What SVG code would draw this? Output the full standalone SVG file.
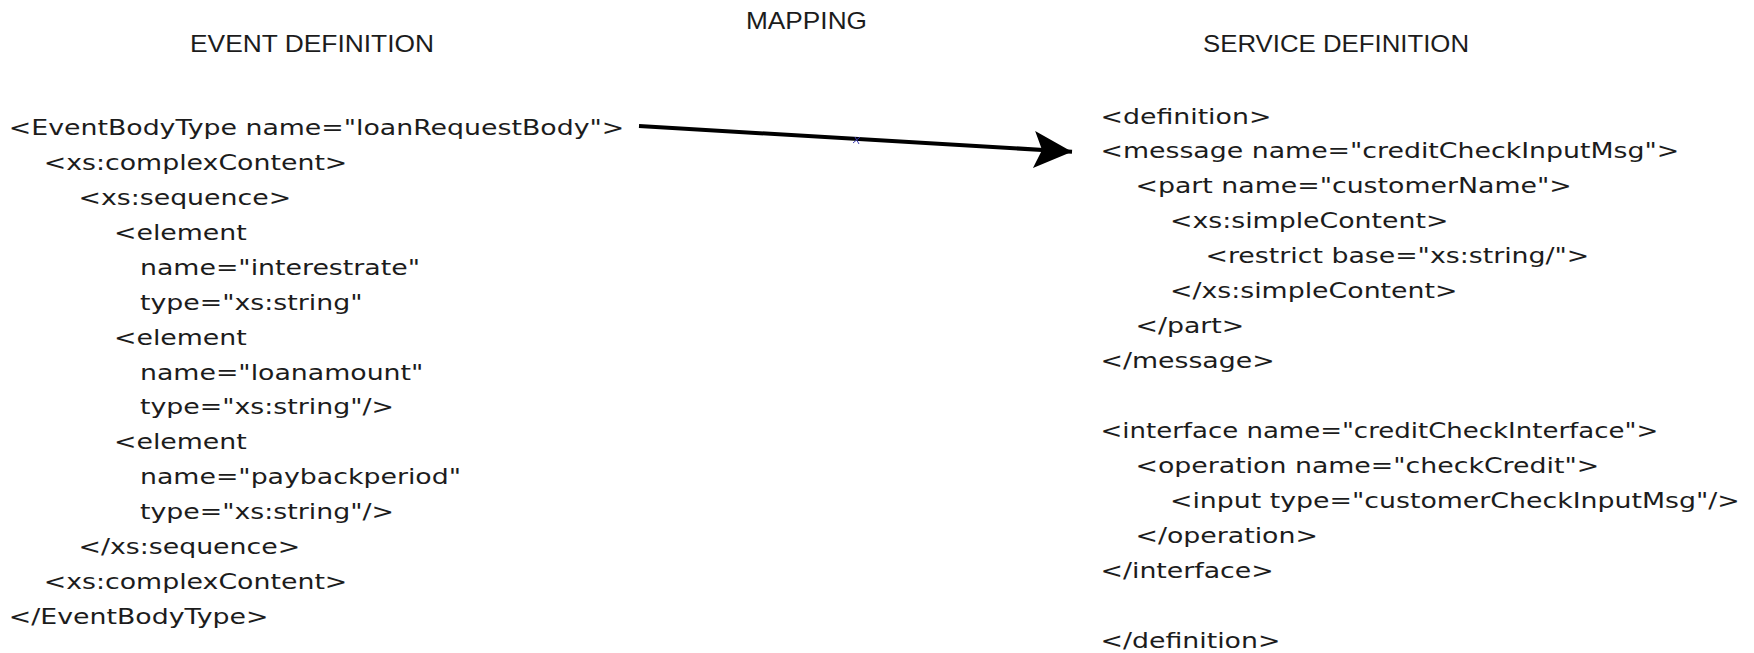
<svg xmlns="http://www.w3.org/2000/svg" width="1754" height="653" viewBox="0 0 1754 653">
  <style>
    .code { font-family: "DejaVu Sans", "Liberation Sans", sans-serif; font-size: 20.6px; fill: #1c1c1c; }
    .head { font-family: "Liberation Sans", Arial, sans-serif; font-size: 24px; fill: #1c1c1c; }
    .link { stroke: #000; stroke-width: 4; fill: none; }
  </style>
  <defs>
    <marker id="arrowHead" markerUnits="userSpaceOnUse" markerWidth="50" markerHeight="50" refX="0" refY="0" orient="auto" viewBox="-45 -25 50 50" overflow="visible">
      <path d="M0,0 L-38,-18.5 L-30,0 L-38,18.5 Z" fill="#000"/>
    </marker>
  </defs>
  <rect width="1754" height="653" fill="#fff"/>

  <!-- column headings -->
  <g id="heading-event">
    <text class="head" x="190" y="52" textLength="244" lengthAdjust="spacingAndGlyphs">EVENT DEFINITION</text>
  </g>
  <g id="heading-mapping">
    <text class="head" x="746" y="29" textLength="121" lengthAdjust="spacingAndGlyphs">MAPPING</text>
  </g>
  <g id="heading-service">
    <text class="head" x="1203" y="52" textLength="266" lengthAdjust="spacingAndGlyphs">SERVICE DEFINITION</text>
  </g>

  <!-- event body schema -->
  <g id="event-definition" class="code">
    <text transform="matrix(1.3 0 0 1 8.8 135)">&lt;EventBodyType name="loanRequestBody"&gt;</text>
    <text transform="matrix(1.3 0 0 1 43.8 169.9)">&lt;xs:complexContent&gt;</text>
    <text transform="matrix(1.3 0 0 1 78.5 204.9)">&lt;xs:sequence&gt;</text>
    <text transform="matrix(1.3 0 0 1 114 239.8)">&lt;element</text>
    <text transform="matrix(1.3 0 0 1 140 274.7)">name="interestrate"</text>
    <text transform="matrix(1.3 0 0 1 140 309.7)">type="xs:string"</text>
    <text transform="matrix(1.3 0 0 1 114 344.6)">&lt;element</text>
    <text transform="matrix(1.3 0 0 1 140 379.5)">name="loanamount"</text>
    <text transform="matrix(1.3 0 0 1 140 414.4)">type="xs:string"/&gt;</text>
    <text transform="matrix(1.3 0 0 1 114 449.4)">&lt;element</text>
    <text transform="matrix(1.3 0 0 1 140 484.3)">name="paybackperiod"</text>
    <text transform="matrix(1.3 0 0 1 140 519.2)">type="xs:string"/&gt;</text>
    <text transform="matrix(1.3 0 0 1 78.5 554.2)">&lt;/xs:sequence&gt;</text>
    <text transform="matrix(1.3 0 0 1 43.8 589.1)">&lt;xs:complexContent&gt;</text>
    <text transform="matrix(1.3 0 0 1 8.8 624)">&lt;/EventBodyType&gt;</text>
  </g>

  <!-- service description -->
  <g id="service-definition" class="code">
    <text transform="matrix(1.3 0 0 1 1100.5 123.5)">&lt;definition&gt;</text>
    <text transform="matrix(1.3 0 0 1 1100.5 158.4)">&lt;message name="creditCheckInputMsg"&gt;</text>
    <text transform="matrix(1.3 0 0 1 1135.5 193.4)">&lt;part name="customerName"&gt;</text>
    <text transform="matrix(1.3 0 0 1 1170 228.3)">&lt;xs:simpleContent&gt;</text>
    <text transform="matrix(1.3 0 0 1 1205.5 263.2)">&lt;restrict base="xs:string/"&gt;</text>
    <text transform="matrix(1.3 0 0 1 1170 298.2)">&lt;/xs:simpleContent&gt;</text>
    <text transform="matrix(1.3 0 0 1 1135.5 333.1)">&lt;/part&gt;</text>
    <text transform="matrix(1.3 0 0 1 1100.5 368)">&lt;/message&gt;</text>
    <text transform="matrix(1.3 0 0 1 1100.5 437.9)" textLength="429" lengthAdjust="spacingAndGlyphs">&lt;interface name="creditCheckInterface"&gt;</text>
    <text transform="matrix(1.3 0 0 1 1135.5 472.8)">&lt;operation name="checkCredit"&gt;</text>
    <text transform="matrix(1.3 0 0 1 1170 507.7)">&lt;input type="customerCheckInputMsg"/&gt;</text>
    <text transform="matrix(1.3 0 0 1 1135.5 542.7)">&lt;/operation&gt;</text>
    <text transform="matrix(1.3 0 0 1 1100.5 577.6)">&lt;/interface&gt;</text>
    <text transform="matrix(1.3 0 0 1 1100.5 647.5)">&lt;/definition&gt;</text>
  </g>

  <!-- mapping connector -->
  <g id="connectors">
    <line class="link" x1="639" y1="126" x2="1072" y2="151.7" marker-end="url(#arrowHead)"/>
    <path d="M853,143 L860,137 M855,137 L859,144" stroke="#3b3bb0" stroke-width="1" fill="none"/>
  </g>
</svg>
